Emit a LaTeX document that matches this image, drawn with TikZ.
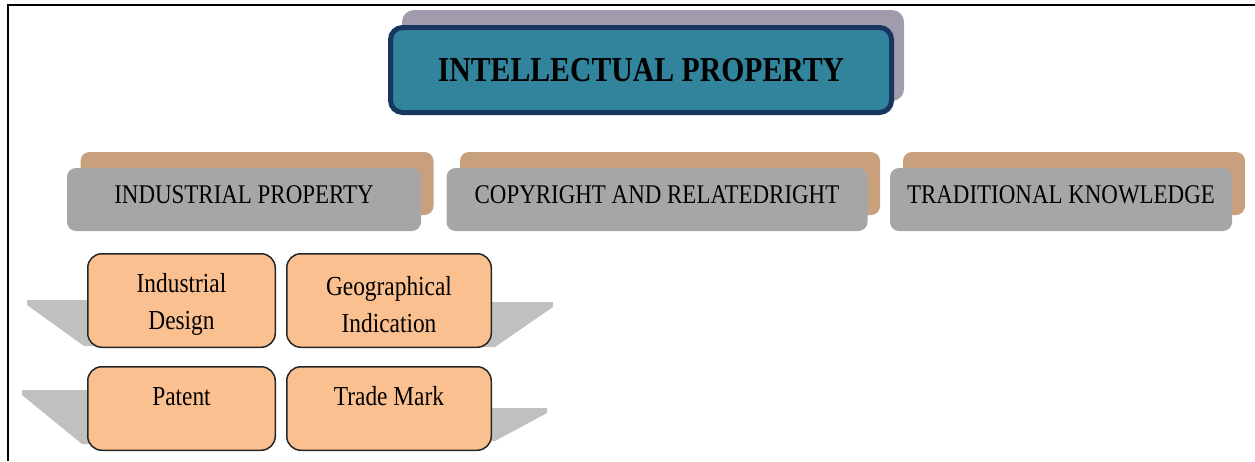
\documentclass[tikz,border=0pt]{standalone}
\usepackage{fontspec}
\setmainfont{Liberation Serif}[FakeStretch=0.85]
\usetikzlibrary{positioning}

\definecolor{ipteal}{HTML}{31849B}
\definecolor{ipnavy}{HTML}{17375E}
\definecolor{iplilac}{HTML}{A29BAE}
\definecolor{iptan}{HTML}{C9A07E}
\definecolor{ipgrey}{HTML}{A6A6A6}
\definecolor{ippeach}{HTML}{FAC090}
\definecolor{ipfold}{HTML}{C0C0C0}

\newcommand{\iplift}{\rule{0pt}{27pt}}

\begin{document}
\begin{tikzpicture}[x=1pt, y=-1pt,
	titleshade/.style={rectangle, rounded corners=12pt, fill=iplilac, minimum width=502pt, minimum height=91pt},
	titlebox/.style={rectangle, rounded corners=12pt, draw=ipnavy, line width=5pt, fill=ipteal, minimum width=501pt, minimum height=85pt, text centered, font=\fontsize{35}{40}\selectfont\bfseries},
	catshade/.style={rectangle, rounded corners=9pt, fill=iptan, minimum height=63pt},
	catbox/.style={rectangle, rounded corners=9pt, fill=ipgrey, minimum height=63pt, text centered, font=\fontsize{27}{32}\selectfont, text height=18pt, text depth=11pt},
	subbox/.style={rectangle, rounded corners=14pt, draw=black!85, line width=1.5pt, fill=ippeach, minimum height=93.5pt, align=center, font=\fontsize{27.5}{37}\selectfont},
	subtop/.style={subbox, minimum height=83.5pt, text height=19pt, text depth=26pt},
	fold/.style={fill=ipfold}]
	\useasboundingbox (0,0) rectangle (1255,461);
	\draw[line width=2pt] (7.5,461) -- (7.5,5) -- (1255,5);

	% top
	\node[titleshade] (ipshade) at (653,55.5) {};
	\node[titlebox] (ipmain) at (641,70) {INTELLECTUAL PROPERTY};

	% three branches
	\node[catshade, minimum width=353pt] (indshade) at (257,183.5) {};
	\node[catbox, minimum width=354pt] (ind) at ([shift={(-13,16)}]indshade) {INDUSTRIAL PROPERTY};
	\node[catshade, minimum width=420pt] (copyshade) at (670,183.5) {};
	\node[catbox, minimum width=421pt] (copy) at ([shift={(-13,16)}]copyshade) {COPYRIGHT AND RELATEDRIGHT};
	\node[catshade, minimum width=342pt] (tradshade) at (1074,183.5) {};
	\node[catbox, minimum width=342pt] (trad) at ([shift={(-13,16)}]tradshade) {TRADITIONAL KNOWLEDGE};

	% folds behind the small boxes
	\fill[fold] (27,300) -- (95,300) -- (95,346) -- (84,346) -- (27,305) -- cycle;
	\fill[fold] (480,302) -- (553,302) -- (553,307) -- (495,347) -- (480,347) -- cycle;
	\fill[fold] (22,390) -- (95,390) -- (95,444) -- (82,444) -- (22,395) -- cycle;
	\fill[fold] (480,408) -- (547,408) -- (547,413) -- (495,441) -- (480,441) -- cycle;

	% kinds of industrial property
	\node[subbox, minimum width=187.5pt] (design) at (181.5,300.5) {\iplift Industrial\\Design};
	\node[subbox, minimum width=204.5pt] (geo) [right=10pt of design] {\iplift Geographical\\Indication};
	\node[subtop, minimum width=187.5pt] (patent) [below=18pt of design] {Patent};
	\node[subtop, minimum width=204.5pt] (mark) [right=10pt of patent] {Trade Mark};
\end{tikzpicture}
\end{document}
